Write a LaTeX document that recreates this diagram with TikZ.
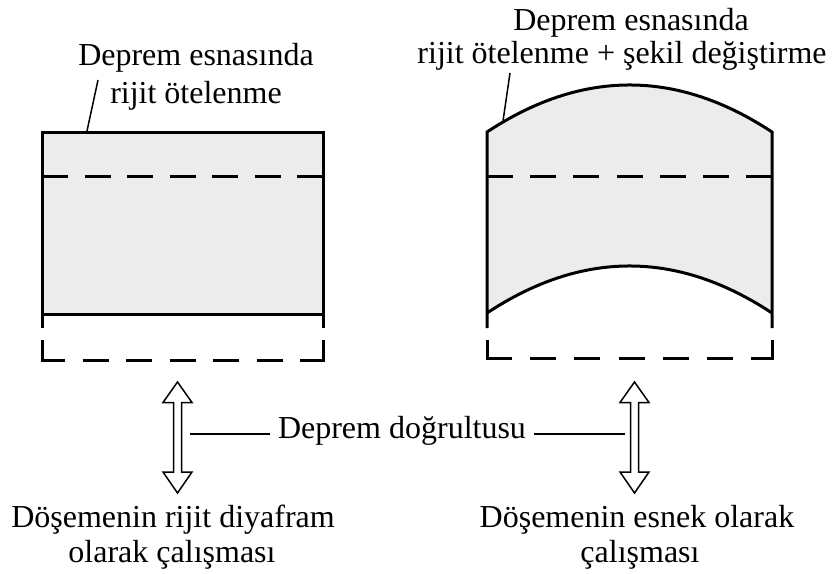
\documentclass[tikz,border=0pt]{standalone}
\usepackage{fontspec}
\setmainfont{Liberation Serif}
\usepackage{tikz}
\usetikzlibrary{calc}
\definecolor{slabgray}{RGB}{236,236,236}
\tikzset{
  lbl/.style={font=\fontsize{32}{36}\selectfont,inner sep=0pt,anchor=base},
  edge/.style={line width=3pt,line join=miter},
  middash/.style={edge,dash pattern=on 26pt off #1},
  basedash/.style={edge,dash pattern=on 43pt off #1 on 26pt off #1 on 26pt off #1 on 26pt off #1 on 26pt off #1 on 26pt off #1 on 43pt off 200pt},
  leader/.style={line width=1.5pt},
  hollow/.style={line width=1.5pt,line join=miter,fill=white},
}

\begin{document}
\begin{tikzpicture}[x=1pt,y=-1pt]
  \useasboundingbox (0,0) rectangle (834,573);
  % rigid slab
  \fill[slabgray] (42,132) rectangle (323,314);
  \draw[edge] (42,328) -- (42,132) -- (323,132) -- (323,328);
  \draw[edge] (42,314) -- (323,314);
  \draw[middash=16.5pt] (42,176) -- (323,176);
  \draw[basedash=17.5pt] (42,340) -- (42,360) -- (323,360) -- (323,340);
  % flexible slab
  \fill[slabgray] (487,132) .. controls (582,69.3) and (677,69.3) .. (772,132)
    -- (772,313) .. controls (677,250.3) and (582,250.3) .. (487,313) -- cycle;
  \draw[edge] (487,328) -- (487,132) .. controls (582,69.3) and (677,69.3) .. (772,132) -- (772,328);
  \draw[edge] (487,313) .. controls (582,250.3) and (677,250.3) .. (772,313);
  \draw[middash=17.2pt] (487,176) -- (772,176);
  \draw[basedash=18.2pt] (487,340) -- (487,358) -- (772,358) -- (772,340);
  % labels
  \node[lbl] (topL1) at (196,65) {Deprem esnasında};
  \node[lbl] (topL2) at (196,103) {rijit ötelenme};
  \node[lbl] (topR1) at (631,30) {Deprem esnasında};
  \node[lbl] (topR2) at (622,63) {rijit ötelenme + şekil değiştirme};
  \node[lbl,inner sep=8pt] (dir) at (402,438) {Deprem doğrultusu};
  \node[lbl] (botL1) at (173,527) {Döşemenin rijit diyafram};
  \node[lbl] (botL2) at (172,562) {olarak çalışması};
  \node[lbl] (botR1) at (637,527) {Döşemenin esnek olarak};
  \node[lbl] (botR2) at (640,562) {çalışması};
  % leaders
  \coordinate (ldL) at (98,80);  \coordinate (ldLe) at (87,131);
  \coordinate (ldR) at (510,73); \coordinate (ldRe) at (503,121);
  \draw[leader] (ldL) -- (ldLe);
  \draw[leader] (ldR) -- (ldRe);
  % earthquake direction arrows
  \foreach \n/\cx in {L/177.5, R/634.5}{
    \draw[hollow] (\cx,382) -- (\cx+14.5,402.5) -- (\cx+4,402.5) -- (\cx+4,472)
      -- (\cx+14.5,472) -- (\cx,493) -- (\cx-14.5,472) -- (\cx-4,472)
      -- (\cx-4,402.5) -- (\cx-14.5,402.5) -- cycle;
    \coordinate (arr\n) at (\cx,434);}
  \coordinate (hL) at ($(arrL)+(12.5,0)$);
  \coordinate (hR) at ($(arrR)+(-9.5,0)$);
  \draw[leader] (hL) -- (hL -| dir.west);
  \draw[leader] (hR) -- (hR -| dir.east);
\end{tikzpicture}
\end{document}
